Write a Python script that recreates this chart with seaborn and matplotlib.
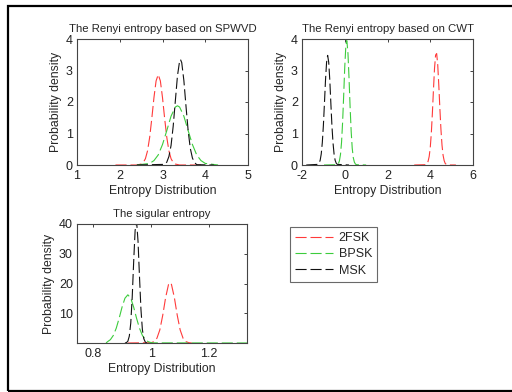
import matplotlib
matplotlib.use("Agg")
import matplotlib.pyplot as plt
from matplotlib.lines import Line2D
import seaborn as sns

sns.set_style("white")
plt.rcParams["font.family"] = ["Liberation Sans", "DejaVu Sans"]
plt.rcParams["axes.unicode_minus"] = False

# ---- data ----
labels = ["2FSK", "BPSK", "MSK"]
colors = ["#ff3a3a", "#3ccc3c", "#111111"]

# Renyi entropy (SPWVD)
spwvd_2fsk_x = [1.9, 2.4, 2.5, 2.55, 2.6, 2.65, 2.7, 2.75, 2.8, 2.85, 2.9, 2.95, 3.0, 3.05, 3.1, 3.15, 3.2, 3.25, 3.3, 3.4, 3.9]
spwvd_2fsk_y = [0, 0, 0.03, 0.08, 0.2, 0.45, 0.88, 1.48, 2.14, 2.67, 2.87, 2.67, 2.14, 1.48, 0.88, 0.45, 0.2, 0.08, 0.03, 0, 0]
spwvd_bpsk_x = [2.4, 2.7, 2.8, 2.9, 3.0, 3.1, 3.2, 3.3, 3.35, 3.4, 3.5, 3.6, 3.7, 3.8, 3.9, 4.0, 4.3]
spwvd_bpsk_y = [0, 0.05, 0.14, 0.32, 0.65, 1.09, 1.55, 1.84, 1.88, 1.84, 1.55, 1.09, 0.65, 0.32, 0.14, 0.05, 0]
spwvd_msk_x = [2.4, 3.05, 3.1, 3.15, 3.2, 3.25, 3.3, 3.35, 3.4, 3.42, 3.45, 3.5, 3.55, 3.6, 3.65, 3.7, 3.75, 3.8, 4.2]
spwvd_msk_y = [0, 0.02, 0.09, 0.27, 0.62, 1.23, 2.03, 2.83, 3.3, 3.35, 3.25, 2.68, 1.86, 1.09, 0.53, 0.22, 0.08, 0.01, 0]

# Renyi entropy (CWT)
cwt_2fsk_x = [3.25, 3.8, 3.85, 3.9, 3.95, 4.0, 4.05, 4.1, 4.15, 4.2, 4.25, 4.3, 4.35, 4.4, 4.45, 4.5, 4.55, 4.6, 4.65, 4.7, 4.75, 4.8, 5.2]
cwt_2fsk_y = [0, 0.01, 0.04, 0.12, 0.27, 0.55, 1.01, 1.65, 2.39, 3.07, 3.49, 3.54, 3.18, 2.53, 1.8, 1.13, 0.63, 0.31, 0.14, 0.05, 0.02, 0, 0]
cwt_bpsk_x = [-0.97, -0.35, -0.3, -0.25, -0.2, -0.15, -0.1, -0.05, 0.0, 0.05, 0.09, 0.1, 0.15, 0.2, 0.25, 0.3, 0.35, 0.4, 0.45, 0.5, 0.55, 1.0]
cwt_bpsk_y = [0, 0.01, 0.04, 0.13, 0.33, 0.72, 1.36, 2.21, 3.11, 3.77, 3.95, 3.94, 3.55, 2.76, 1.85, 1.07, 0.53, 0.23, 0.09, 0.03, 0.01, 0]
cwt_msk_x = [-1.8, -1.25, -1.2, -1.15, -1.1, -1.05, -1.0, -0.95, -0.9, -0.85, -0.8, -0.75, -0.7, -0.65, -0.6, -0.55, -0.5, -0.45, -0.4, -0.35, 0.2]
cwt_msk_y = [0, 0.02, 0.06, 0.15, 0.35, 0.71, 1.25, 1.96, 2.7, 3.26, 3.48, 3.26, 2.7, 1.96, 1.25, 0.71, 0.35, 0.15, 0.06, 0.02, 0]

# singular entropy
sing_2fsk_x = [0.92, 1.0, 1.01, 1.02, 1.03, 1.04, 1.05, 1.06, 1.065, 1.07, 1.08, 1.09, 1.1, 1.11, 1.12, 1.13, 1.14]
sing_2fsk_y = [0, 0.1, 0.46, 1.6, 4.4, 9.3, 15.3, 19.7, 20.3, 19.7, 15.3, 9.3, 4.4, 1.6, 0.46, 0.1, 0]
sing_bpsk_x = [0.845, 0.85, 0.86, 0.87, 0.88, 0.89, 0.9, 0.91, 0.92, 0.93, 0.94, 0.95, 0.96, 0.97, 0.98, 0.99, 1.0, 1.01, 1.33]
sing_bpsk_y = [0, 0.43, 1.13, 2.55, 4.96, 8.3, 12.05, 15.05, 16.2, 15.05, 12.05, 8.3, 4.96, 2.55, 1.13, 0.43, 0.14, 0.04, 0]
sing_msk_x = [0.91, 0.915, 0.92, 0.925, 0.93, 0.935, 0.94, 0.945, 0.95, 0.955, 0.96, 0.965, 0.97, 0.975, 0.98, 0.985]
sing_msk_y = [0, 0.12, 0.6, 2.3, 6.7, 15.4, 27.3, 37.8, 41.0, 34.2, 22.4, 11.4, 4.5, 1.4, 0.34, 0.05]

spwvd_xticks = [1, 2, 3, 4, 5]
cwt_xticks = [-2, 0, 2, 4, 6]
density_yticks = [0, 1, 2, 3, 4]
sing_xticks = [0.8, 1, 1.2]
sing_xticklabels = ["0.8", "1", "1.2"]
sing_yticks = [10, 20, 30, 40]

panels = [
    ("The Renyi entropy based on SPWVD",
     [(spwvd_2fsk_x, spwvd_2fsk_y), (spwvd_bpsk_x, spwvd_bpsk_y), (spwvd_msk_x, spwvd_msk_y)]),
    ("The Renyi entropy based on CWT",
     [(cwt_2fsk_x, cwt_2fsk_y), (cwt_bpsk_x, cwt_bpsk_y), (cwt_msk_x, cwt_msk_y)]),
    ("The sigular entropy",
     [(sing_2fsk_x, sing_2fsk_y), (sing_bpsk_x, sing_bpsk_y), (sing_msk_x, sing_msk_y)]),
]

W, H = 512, 392
fig = plt.figure(figsize=(W / 100, H / 100), dpi=100)

# axes boxes in pixels (left, top, right, bottom)
boxes = [(77, 39, 248, 165), (302, 39, 473, 165), (77, 224, 247, 343)]
axes = []
for l, t, r, b in boxes:
    axes.append(fig.add_axes([l / W, (H - b) / H, (r - l) / W, (b - t) / H]))

dash = (0, (10, 3.5))
for ax, (title, curves) in zip(axes, panels):
    for (xs, ys), lab, col in zip(curves, labels, colors):
        sns.lineplot(x=xs, y=ys, ax=ax, color=col, lw=0.8, linestyle=dash,
                     label=lab, sort=False, estimator=None)
    if ax.get_legend() is not None:
        ax.get_legend().remove()
    ax.set_title(title, fontsize=8.2, pad=5)
    ax.set_xlabel("Entropy Distribution", fontsize=8.8, labelpad=2)
    ax.set_ylabel("Probability density", fontsize=8.8, labelpad=3)
    ax.tick_params(direction="in", length=2.5, width=0.6, top=True, right=True,
                   labelsize=9, colors="#222222")
    ax.tick_params(axis="x", pad=3.5)
    ax.tick_params(axis="y", pad=3)
    for s in ax.spines.values():
        s.set_color("#444444")
        s.set_linewidth(0.8)

axes[0].set_xlim(1, 5)
axes[0].set_xticks(spwvd_xticks)
axes[0].set_ylim(0, 4)
axes[0].set_yticks(density_yticks)

axes[1].set_xlim(-2, 6)
axes[1].set_xticks(cwt_xticks)
axes[1].set_ylim(0, 4)
axes[1].set_yticks(density_yticks)

axes[2].set_xlim(0.745, 1.33)
axes[2].set_xticks(sing_xticks, labels=sing_xticklabels)
axes[2].set_ylim(0, 40)
axes[2].set_yticks(sing_yticks)

handles = [Line2D([], [], color=c, lw=0.8, linestyle=dash) for c in colors]
leg = fig.legend(handles, labels, loc="upper left",
                 bbox_to_anchor=(290 / W, 1 - 227 / H), bbox_transform=fig.transFigure,
                 fontsize=9, frameon=True, fancybox=False, borderaxespad=0,
                 handlelength=3.0, handletextpad=0.5, labelspacing=0.35,
                 borderpad=0.4)
leg.get_frame().set_edgecolor("#444444")
leg.get_frame().set_linewidth(0.8)

# outer frame (right side runs off the picture)
fig.add_artist(plt.Rectangle((7.5 / W, 1.5 / H), 1.2, (H - 7.5) / H,
                             transform=fig.transFigure, fill=False,
                             edgecolor="black", lw=1.6))

fig.savefig("out.png", dpi=100)
